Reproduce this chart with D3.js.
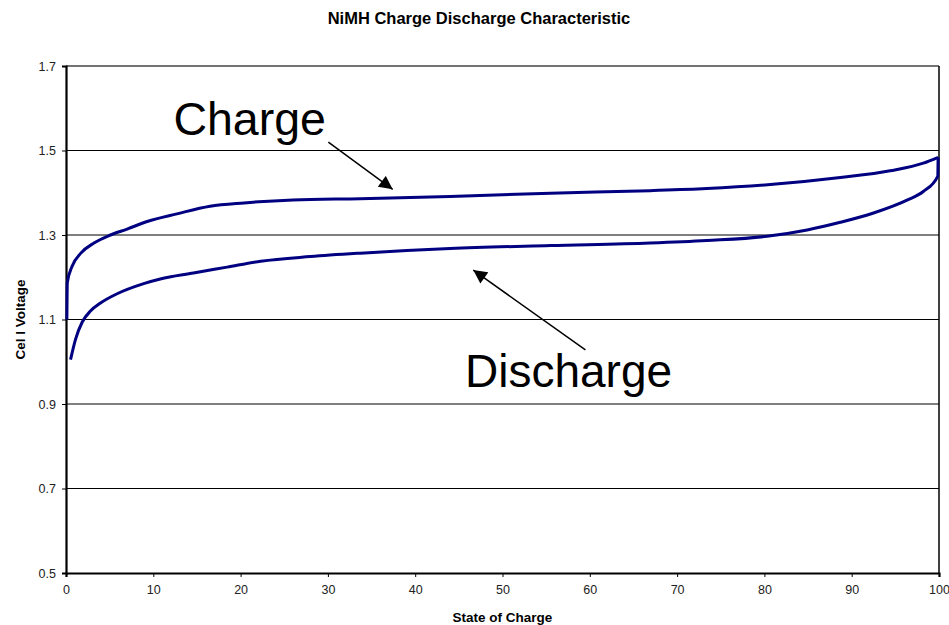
<!DOCTYPE html>
<html>
<head>
<meta charset="utf-8">
<script src="https://cdn.jsdelivr.net/npm/d3@7"></script>
<style>
  body { margin: 0; background: #fff; }
  text { font-family: "Liberation Sans", Arial, sans-serif; }
</style>
</head>
<body>
<div id="graphic"></div>
<script>
// readings: state of charge (%) and cell voltage (V)
var socCharge = [0.1, 0.15, 0.7, 1.7, 3.2, 5.1, 7.0, 9.3, 12.7, 16.5, 20.4, 26, 33.7, 44, 55.5, 66.9, 73.4, 81, 88.7, 94.4, 98.2, 99.9];
var vCharge = [1.10, 1.187, 1.226, 1.257, 1.281, 1.300, 1.314, 1.332, 1.350, 1.368, 1.376, 1.383, 1.386, 1.391, 1.399, 1.405, 1.410, 1.420, 1.436, 1.452, 1.470, 1.484];

var socDischarge = [0.52, 1.09, 1.86, 2.8, 3.95, 5.86, 8.9, 10.8, 14.6, 18.45, 22.3, 28, 33.7, 44, 55.5, 66.9, 73.4, 80.3, 84.9, 88.7, 92.5, 96.4, 98.2, 99.85, 99.9];
var vDischarge = [1.005, 1.053, 1.094, 1.120, 1.139, 1.161, 1.185, 1.196, 1.210, 1.224, 1.238, 1.249, 1.257, 1.268, 1.275, 1.281, 1.287, 1.297, 1.312, 1.330, 1.352, 1.383, 1.403, 1.439, 1.484];

var xTicks = [0, 10, 20, 30, 40, 50, 60, 70, 80, 90, 100];
var yTicks = [0.5, 0.7, 0.9, 1.1, 1.3, 1.5, 1.7];

var W = 949, H = 625;
var margin = { top: 66, right: 10, bottom: 52, left: 66 },
    width = 939 - margin.left,
    height = 573 - margin.top;

var svg = d3.select("#graphic").append("svg")
    .attr("width", W)
    .attr("height", H);

svg.append("defs").append("marker")
    .attr("id", "head")
    .attr("viewBox", "0 0 10 10")
    .attr("refX", 10).attr("refY", 5)
    .attr("markerWidth", 10).attr("markerHeight", 9)
    .attr("markerUnits", "strokeWidth")
    .attr("orient", "auto")
    .append("path")
    .attr("d", "M0,0 L10,5 L0,10 z")
    .attr("fill", "#000");

var g = svg.append("g")
    .attr("transform", "translate(" + margin.left + "," + margin.top + ")");

var x = d3.scaleLinear().domain([0, 100]).range([0, width]);
var y = d3.scaleLinear().domain([0.5, 1.7]).range([height, 0]);

// gridlines
g.selectAll(".grid")
    .data(yTicks.slice(1))
    .enter()
    .append("line")
    .attr("class", "grid")
    .attr("x1", 0).attr("x2", width)
    .attr("y1", function(d) { return y(d); })
    .attr("y2", function(d) { return y(d); })
    .attr("stroke", function(d) { return d == 1.7 ? "#444" : "#000"; })
    .attr("stroke-width", function(d) { return d == 1.7 ? 1.6 : 1; });

// right border
g.append("line")
    .attr("x1", width).attr("x2", width)
    .attr("y1", 0).attr("y2", height)
    .attr("stroke", "#000").attr("stroke-width", 1.5);

// axes
var xAxis = g.append("g")
    .attr("transform", "translate(0," + height + ")")
    .call(d3.axisBottom(x).tickValues(xTicks).tickSize(4).tickPadding(8).tickFormat(d3.format("d")));
var yAxis = g.append("g")
    .call(d3.axisLeft(y).tickValues(yTicks).tickSize(4).tickPadding(6).tickFormat(d3.format(".1f")));

[xAxis, yAxis].forEach(function(a) {
    a.select(".domain").attr("stroke", "#000").attr("stroke-width", 2.2);
    a.selectAll(".tick line").attr("stroke", "#000").attr("stroke-width", 1);
    a.selectAll(".tick text")
        .attr("fill", "#222")
        .style("font-family", "'Liberation Sans', Arial, sans-serif")
        .style("font-size", "12.5px");
});

// curves
var line = d3.line()
    .x(function(d) { return x(d[0]); })
    .y(function(d) { return y(d[1]); })
    .curve(d3.curveMonotoneX);

var charge = socCharge.map(function(s, i) { return [s, vCharge[i]]; });
var discharge = socDischarge.map(function(s, i) { return [s, vDischarge[i]]; });

[charge, discharge].forEach(function(series) {
    g.append("path")
        .datum(series)
        .attr("fill", "none")
        .attr("stroke", "#000080")
        .attr("stroke-width", 3)
        .attr("stroke-linejoin", "round")
        .attr("d", line);
});

// annotations
g.append("text")
    .attr("x", x(12.3)).attr("y", y(1.536))
    .style("font-size", "46.5px")
    .text("Charge");
g.append("line")
    .attr("x1", x(30.05)).attr("y1", y(1.52))
    .attr("x2", x(37.42)).attr("y2", y(1.408))
    .attr("stroke", "#000").attr("stroke-width", 1.5)
    .attr("marker-end", "url(#head)");

g.append("text")
    .attr("x", x(45.7)).attr("y", y(0.94))
    .style("font-size", "46px")
    .text("Discharge");
g.append("line")
    .attr("x1", x(59.5)).attr("y1", y(1.028))
    .attr("x2", x(46.65)).attr("y2", y(1.217))
    .attr("stroke", "#000").attr("stroke-width", 1.5)
    .attr("marker-end", "url(#head)");

// titles
svg.append("text")
    .attr("x", 479).attr("y", 24)
    .attr("text-anchor", "middle")
    .style("font-size", "16.5px").style("font-weight", "bold")
    .text("NiMH Charge Discharge Characteristic");

svg.append("text")
    .attr("x", margin.left + width / 2).attr("y", 622)
    .attr("text-anchor", "middle")
    .style("font-size", "13.5px").style("font-weight", "bold")
    .text("State of Charge");

svg.append("text")
    .attr("transform", "translate(25," + (margin.top + height / 2) + ") rotate(-90)")
    .attr("text-anchor", "middle")
    .style("font-size", "13.5px").style("font-weight", "bold")
    .text("Cel l Voltage");
</script>
</body>
</html>
